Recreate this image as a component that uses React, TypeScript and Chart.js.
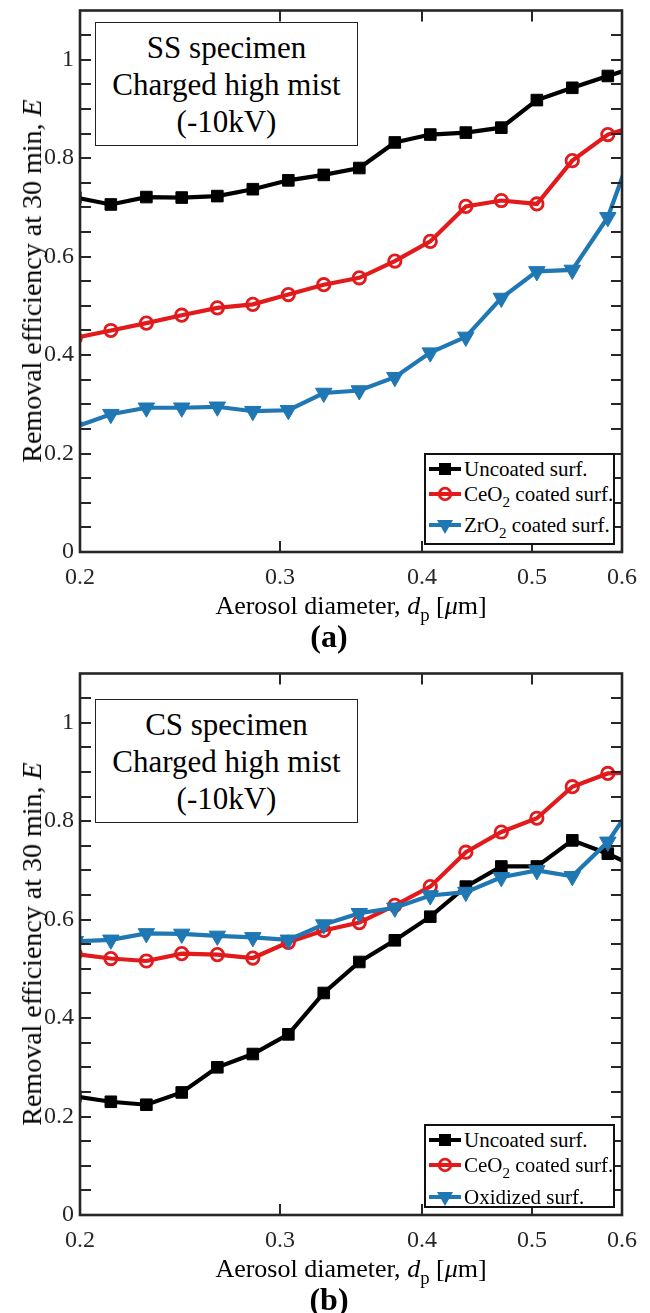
import React, { useEffect, useRef } from "react";
import { Chart, registerables } from "chart.js";

Chart.register(...registerables);

// Particle size channels (µm), 32 channels per decade
const diameters = [
  0.1981, 0.2129, 0.2288, 0.2458, 0.2642, 0.2839, 0.3051, 0.3278, 0.3523,
  0.3786, 0.4068, 0.4372, 0.4698, 0.5049, 0.5425, 0.583, 0.6266,
];

// SS specimen
const ssUncoated = [
  0.72, 0.706, 0.721, 0.72, 0.723, 0.737, 0.755, 0.766, 0.78, 0.832, 0.848,
  0.852, 0.862, 0.918, 0.943, 0.967, 0.99,
];
const ssCeO2 = [
  0.435, 0.45, 0.465, 0.481, 0.496, 0.503, 0.523, 0.543, 0.557, 0.591, 0.631,
  0.702, 0.714, 0.707, 0.795, 0.848, 0.87,
];
const ssZrO2 = [
  0.254, 0.28, 0.293, 0.293, 0.295, 0.286, 0.288, 0.323, 0.328, 0.355, 0.405,
  0.437, 0.516, 0.57, 0.573, 0.68, 0.88,
];

// CS specimen
const csUncoated = [
  0.241, 0.23, 0.224, 0.249, 0.3, 0.327, 0.367, 0.451, 0.514, 0.558, 0.606,
  0.667, 0.708, 0.708, 0.761, 0.734, 0.7,
];
const csCeO2 = [
  0.53, 0.521, 0.516, 0.531, 0.529, 0.522, 0.554, 0.578, 0.594, 0.629, 0.667,
  0.737, 0.778, 0.806, 0.87, 0.897, 0.9,
];
const csOxidized = [
  0.556, 0.559, 0.572, 0.571, 0.567, 0.564, 0.559, 0.59, 0.613, 0.624, 0.649,
  0.656, 0.686, 0.7, 0.688, 0.758, 0.866,
];

const xTickValues = [0.2, 0.3, 0.4, 0.5, 0.6];
const xInnerTicks = [0.3, 0.4, 0.5];
const yTickValues = [0, 0.2, 0.4, 0.6, 0.8, 1];
const yMinorStep = 0.05;

const SERIF = '"Liberation Serif", "Times New Roman", serif';
const AXIS_COLOR = "#262626";
const BLACK = "#000000";
const RED = "#e31a1c";
const BLUE = "#1f77b4";

const CANVAS_W = 650;
const CANVAS_H = 600;
const PLOT_TOP = 10;
const PLOT_LEFT = 80;
const PLOT_RIGHT_PAD = 28;
const X_AXIS_H = 48;

type Marker = "square" | "circle" | "triangle";

interface SeriesDef {
  name: React.ReactNode;
  values: number[];
  color: string;
  marker: Marker;
  order: number;
}

function markerProps(marker: Marker, color: string) {
  if (marker === "square") {
    return {
      pointStyle: "rect",
      pointRadius: 8.2,
      pointBackgroundColor: color,
      pointBorderColor: color,
      pointBorderWidth: 1,
      pointRotation: 0,
    };
  }
  if (marker === "circle") {
    return {
      pointStyle: "circle",
      pointRadius: 6.2,
      pointBackgroundColor: "rgba(0,0,0,0)",
      pointBorderColor: color,
      pointBorderWidth: 2.8,
      pointRotation: 0,
    };
  }
  return {
    pointStyle: "triangle",
    pointRadius: 9.5,
    pointBackgroundColor: color,
    pointBorderColor: color,
    pointBorderWidth: 1,
    pointRotation: 180,
  };
}

// Box around the plot area with inward ticks on all four sides
const framePlugin = {
  id: "frameTicks",
  afterDatasetsDraw(chart: any) {
    const { ctx, chartArea: a, scales } = chart;
    const x = scales.x;
    const y = scales.y;
    const len = 11;
    ctx.save();
    ctx.strokeStyle = AXIS_COLOR;
    ctx.lineWidth = 2;
    ctx.beginPath();
    for (let k = 1; k * yMinorStep < 1.1 - 1e-9; k++) {
      const py = Math.round(y.getPixelForValue(k * yMinorStep));
      ctx.moveTo(a.left, py);
      ctx.lineTo(a.left + len, py);
      ctx.moveTo(a.right, py);
      ctx.lineTo(a.right - len, py);
    }
    for (const v of xInnerTicks) {
      const px = Math.round(x.getPixelForValue(v));
      ctx.moveTo(px, a.bottom);
      ctx.lineTo(px, a.bottom - len);
      ctx.moveTo(px, a.top);
      ctx.lineTo(px, a.top + len);
    }
    ctx.stroke();
    ctx.lineWidth = 2.6;
    ctx.strokeRect(a.left, a.top, a.right - a.left, a.bottom - a.top);
    ctx.restore();
  },
};

function LegendSample({ color, marker }: { color: string; marker: Marker }) {
  let shape: React.ReactNode = null;
  if (marker === "square") {
    shape = <rect x={12} y={6} width={12} height={12} fill={color} />;
  } else if (marker === "circle") {
    shape = (
      <circle cx={18} cy={12} r={5.8} fill="none" stroke={color} strokeWidth={2.8} />
    );
  } else {
    shape = <polygon points="10,7 26,7 18,21" fill={color} />;
  }
  return (
    <svg width={36} height={24} style={{ display: "block", flex: "none" }}>
      <line x1={2} y1={12} x2={34} y2={12} stroke={color} strokeWidth={4} />
      {shape}
    </svg>
  );
}

interface PanelProps {
  top: number;
  series: SeriesDef[];
  boxLines: string[];
  boxTop: number;
  legendTop: number;
  legendHeight: number;
  rowCenters: number[];
  label: string;
}

function Panel(props: PanelProps) {
  const ref = useRef<HTMLCanvasElement | null>(null);

  useEffect(() => {
    if (!ref.current) return;
    const tickFont = { family: SERIF, size: 24 };
    const chart = new Chart(ref.current, {
      type: "line",
      data: {
        datasets: props.series.map((s) => ({
          label: typeof s.name === "string" ? s.name : "",
          data: diameters.map((d, i) => ({ x: d, y: s.values[i] })),
          borderColor: s.color,
          borderWidth: 4.2,
          tension: 0,
          fill: false,
          clip: 0,
          order: s.order,
          ...markerProps(s.marker, s.color),
        })) as any,
      },
      options: {
        animation: false,
        responsive: false,
        maintainAspectRatio: false,
        layout: {
          padding: { left: 0, right: PLOT_RIGHT_PAD, top: PLOT_TOP, bottom: 0 },
        },
        plugins: {
          legend: { display: false },
          tooltip: { enabled: false },
        },
        scales: {
          x: {
            type: "logarithmic",
            min: 0.2,
            max: 0.6,
            grid: { display: false, drawTicks: false },
            border: { display: false },
            afterBuildTicks: (s: any) => {
              s.ticks = xTickValues.map((v) => ({ value: v }));
            },
            afterFit: (s: any) => {
              s.height = X_AXIS_H;
              s.paddingLeft = 0;
              s.paddingRight = 0;
            },
            ticks: {
              autoSkip: false,
              maxRotation: 0,
              padding: 11,
              color: AXIS_COLOR,
              font: tickFont,
              callback: (v: any) => String(v),
            },
          },
          y: {
            type: "linear",
            min: 0,
            max: 1.1,
            grid: { display: false, drawTicks: false },
            border: { display: false },
            afterBuildTicks: (s: any) => {
              s.ticks = yTickValues.map((v) => ({ value: v }));
            },
            afterFit: (s: any) => {
              s.width = PLOT_LEFT;
              s.paddingTop = 0;
              s.paddingBottom = 0;
            },
            ticks: {
              autoSkip: false,
              padding: 6,
              color: AXIS_COLOR,
              font: tickFont,
              callback: (v: any) => String(v),
            },
          },
        },
      } as any,
      plugins: [framePlugin],
    });
    return () => chart.destroy();
  }, []);

  const plotBottom = CANVAS_H - X_AXIS_H;
  const plotMidY = (PLOT_TOP + plotBottom) / 2;
  const plotMidX = (PLOT_LEFT + (CANVAS_W - PLOT_RIGHT_PAD)) / 2;
  const sub = {
    fontSize: "0.72em",
    verticalAlign: "-0.38em",
    lineHeight: 0,
  } as React.CSSProperties;

  return (
    <div
      style={{
        position: "absolute",
        left: 0,
        top: props.top,
        width: CANVAS_W,
        height: 650,
      }}
    >
      <canvas
        ref={ref}
        width={CANVAS_W}
        height={CANVAS_H}
        style={{ position: "absolute", left: 0, top: 0, width: CANVAS_W, height: CANVAS_H }}
      />

      {/* Specimen / condition note */}
      <div
        style={{
          position: "absolute",
          left: 95,
          top: props.boxTop,
          width: 263,
          height: 124,
          boxSizing: "border-box",
          border: "1px solid #222",
          background: "#fff",
          paddingTop: 6,
          textAlign: "center",
          fontSize: 31,
          lineHeight: "37px",
          color: "#000",
          whiteSpace: "nowrap",
        }}
      >
        {props.boxLines.map((l, i) => (
          <div key={i}>{l}</div>
        ))}
      </div>

      {/* Legend */}
      <div
        style={{
          position: "absolute",
          left: 424,
          top: props.legendTop,
          width: 191,
          height: props.legendHeight,
          boxSizing: "border-box",
          border: "2.5px solid #111",
          background: "#fff",
        }}
      >
        {props.series.map((s, i) => (
          <div
            key={i}
            style={{
              position: "absolute",
              left: 1,
              top: props.rowCenters[i] - 12,
              height: 24,
              display: "flex",
              alignItems: "center",
              whiteSpace: "nowrap",
              fontSize: 21,
              lineHeight: "24px",
              color: "#000",
            }}
          >
            <LegendSample color={s.color} marker={s.marker} />
            <span style={{ marginLeft: 1 }}>{s.name}</span>
          </div>
        ))}
      </div>

      {/* Axis titles */}
      <div
        style={{
          position: "absolute",
          left: plotMidX - 300,
          width: 600,
          top: 606 - 14,
          height: 28,
          textAlign: "center",
          fontSize: 26,
          lineHeight: "28px",
          whiteSpace: "nowrap",
          color: "#000",
        }}
      >
        Aerosol diameter, <i>d</i>
        <span style={sub}>p</span> [<i>μ</i>m]
      </div>
      <div
        style={{
          position: "absolute",
          left: 32,
          top: plotMidY,
          transform: "translate(-50%, -50%) rotate(-90deg)",
          fontSize: 28,
          lineHeight: "30px",
          whiteSpace: "nowrap",
          color: "#000",
        }}
      >
        Removal efficiency at 30 min, <i>E</i>
      </div>

      {/* Panel label */}
      <div
        style={{
          position: "absolute",
          left: 329,
          top: 636,
          transform: "translate(-50%, -50%)",
          fontSize: 32,
          fontWeight: "bold",
          lineHeight: "36px",
          color: "#000",
        }}
      >
        {props.label}
      </div>
    </div>
  );
}

export default function App() {
  const sub = {
    fontSize: "0.72em",
    verticalAlign: "-0.38em",
    lineHeight: 0,
  } as React.CSSProperties;

  const ssSeries: SeriesDef[] = [
    { name: "Uncoated surf.", values: ssUncoated, color: BLACK, marker: "square", order: 3 },
    {
      name: (
        <>
          CeO<span style={sub}>2</span> coated surf.
        </>
      ),
      values: ssCeO2,
      color: RED,
      marker: "circle",
      order: 2,
    },
    {
      name: (
        <>
          ZrO<span style={sub}>2</span> coated surf.
        </>
      ),
      values: ssZrO2,
      color: BLUE,
      marker: "triangle",
      order: 1,
    },
  ];

  const csSeries: SeriesDef[] = [
    { name: "Uncoated surf.", values: csUncoated, color: BLACK, marker: "square", order: 3 },
    {
      name: (
        <>
          CeO<span style={sub}>2</span> coated surf.
        </>
      ),
      values: csCeO2,
      color: RED,
      marker: "circle",
      order: 2,
    },
    { name: "Oxidized surf.", values: csOxidized, color: BLUE, marker: "triangle", order: 1 },
  ];

  return (
    <div
      style={{
        position: "absolute",
        left: 0,
        top: 0,
        width: 650,
        height: 1313,
        background: "#fff",
        fontFamily: SERIF,
        overflow: "hidden",
      }}
    >
      <Panel
        top={0}
        series={ssSeries}
        boxLines={["SS specimen", "Charged high mist", "(-10kV)"]}
        boxTop={22}
        legendTop={453}
        legendHeight={92}
        rowCenters={[14, 39, 70]}
        label="(a)"
      />
      <Panel
        top={663}
        series={csSeries}
        boxLines={["CS specimen", "Charged high mist", "(-10kV)"]}
        boxTop={36}
        legendTop={461}
        legendHeight={84}
        rowCenters={[14, 39, 71]}
        label="(b)"
      />
    </div>
  );
}
